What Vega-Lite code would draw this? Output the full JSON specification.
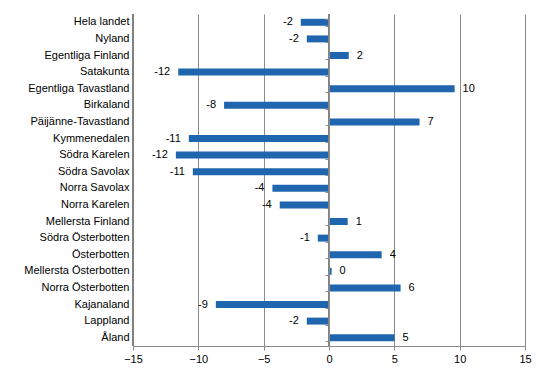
{
  "$schema": "https://vega.github.io/schema/vega-lite/v6.json",
  "width": 392,
  "height": 332,
  "autosize": {"type": "none"},
  "padding": {"left": 133, "top": 14, "right": 21, "bottom": 30},
  "config": {"view": {"stroke": null}, "font": "Liberation Sans"},
  "data": {
    "values": [
      {"region": "Hela landet", "value": -2.16, "label": "-2"},
      {"region": "Nyland", "value": -1.70, "label": "-2"},
      {"region": "Egentliga Finland", "value": 1.51, "label": "2"},
      {"region": "Satakunta", "value": -11.54, "label": "-12"},
      {"region": "Egentliga Tavastland", "value": 9.61, "label": "10"},
      {"region": "Birkaland", "value": -8.03, "label": "-8"},
      {"region": "Päijänne-Tavastland", "value": 6.93, "label": "7"},
      {"region": "Kymmenedalen", "value": -10.73, "label": "-11"},
      {"region": "Södra Karelen", "value": -11.72, "label": "-12"},
      {"region": "Södra Savolax", "value": -10.42, "label": "-11"},
      {"region": "Norra Savolax", "value": -4.33, "label": "-4"},
      {"region": "Norra Karelen", "value": -3.77, "label": "-4"},
      {"region": "Mellersta Finland", "value": 1.43, "label": "1"},
      {"region": "Södra Österbotten", "value": -0.86, "label": "-1"},
      {"region": "Österbotten", "value": 4.03, "label": "4"},
      {"region": "Mellersta Österbotten", "value": 0.2, "label": "0"},
      {"region": "Norra Österbotten", "value": 5.48, "label": "6"},
      {"region": "Kajanaland", "value": -8.66, "label": "-9"},
      {"region": "Lappland", "value": -1.70, "label": "-2"},
      {"region": "Åland", "value": 5.02, "label": "5"}
    ]
  },
  "resolve": {"axis": {"y": "independent"}},
  "layer": [
    {
      "mark": {"type": "bar", "color": "#1f66ae"},
      "encoding": {
        "y": {
          "field": "region", "type": "nominal", "sort": null,
          "scale": {"paddingInner": 0.58, "paddingOuter": 0.29},
          "axis": {"title": null, "ticks": false, "domain": false, "grid": false, "labelFontSize": 11, "labelColor": "#000000", "labelPadding": 4, "labelFont": "Liberation Sans"}
        },
        "x": {
          "field": "value", "type": "quantitative",
          "scale": {"domain": [-15, 15], "nice": false, "zero": false},
          "axis": {"title": null, "values": [-15, -10, -5, 0, 5, 10, 15], "labelFlush": false, "grid": true, "gridColor": "#8c8c8c", "gridOpacity": 1, "gridWidth": 1, "domainColor": "#8c8c8c", "tickColor": "#8c8c8c", "tickSize": 4, "labelFontSize": 11, "labelColor": "#000000", "labelPadding": 3, "labelFont": "Liberation Sans"}
        }
      }
    },
    {
      "mark": {"type": "rule", "color": "#808080", "strokeWidth": 1},
      "encoding": {
        "x": {"datum": -15, "type": "quantitative"}
      }
    },
    {
      "mark": {"type": "rule", "opacity": 0},
      "encoding": {
        "y": {
          "field": "region", "type": "nominal", "sort": null,
          "axis": {"title": null, "orient": "left", "offset": -196, "labels": false, "ticks": true, "tickBand": "extent", "tickSize": 4, "tickColor": "#8c8c8c", "domain": true, "domainColor": "#8c8c8c", "domainWidth": 1, "grid": false, "zindex": 1}
        }
      }
    },
    {
      "mark": {"type": "rule", "color": "#808080", "strokeWidth": 1},
      "encoding": {
        "x": {"datum": 0, "type": "quantitative"}
      }
    },
    {
      "transform": [{"filter": "datum.value >= 0"}],
      "mark": {"type": "text", "align": "left", "dx": 8, "fontSize": 11, "color": "#000000", "font": "Liberation Sans"},
      "encoding": {
        "y": {"field": "region", "type": "nominal", "sort": null, "axis": null},
        "x": {"field": "value", "type": "quantitative"},
        "text": {"field": "label"}
      }
    },
    {
      "transform": [{"filter": "datum.value < 0"}],
      "mark": {"type": "text", "align": "right", "dx": -8, "fontSize": 11, "color": "#000000", "font": "Liberation Sans"},
      "encoding": {
        "y": {"field": "region", "type": "nominal", "sort": null, "axis": null},
        "x": {"field": "value", "type": "quantitative"},
        "text": {"field": "label"}
      }
    }
  ]
}
